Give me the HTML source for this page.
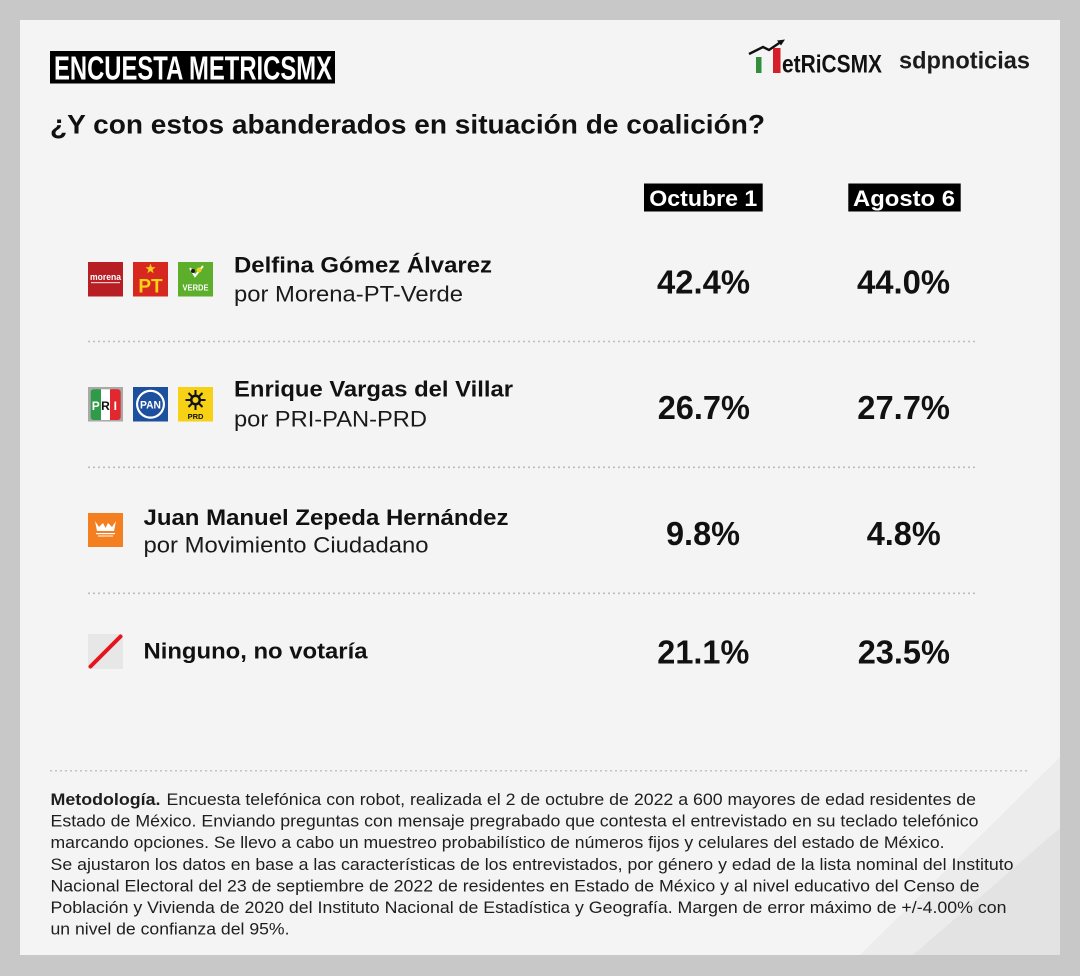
<!DOCTYPE html>
<html>
<head>
<meta charset="utf-8">
<style>
html,body{margin:0;padding:0;background:#c8c8c8;}
svg{display:block;}
text{font-family:"Liberation Sans",Arial,sans-serif;}
</style>
</head>
<body>
<svg width="1080" height="976" viewBox="0 0 1080 976" xmlns="http://www.w3.org/2000/svg">
  <rect x="0" y="0" width="1080" height="976" fill="#c8c8c8"/>
  <rect x="20" y="20" width="1040" height="935" fill="#f4f4f4"/>
  <!-- decorative corner -->
  <polygon points="1060,757 1060,955 860,955" fill="#ececec"/>
  <polygon points="1060,828 1060,955 913,955" fill="#e3e3e3"/>

  <!-- Title -->
  <rect x="50" y="51" width="285" height="32.5" fill="#000"/>
  <text x="54" y="79.3" font-size="33.5" font-weight="bold" fill="#fff" textLength="278" lengthAdjust="spacingAndGlyphs">ENCUESTA METRICSMX</text>

  <!-- metricsmx logo -->
  <polyline points="749,54 763,47 769,50 780,42.5" fill="none" stroke="#111" stroke-width="2.4"/>
  <polygon points="785,39.5 777,40.5 781,45.5" fill="#111"/>
  <rect x="756" y="57" width="5.5" height="16" fill="#2f8f3a"/>
  <rect x="773" y="48" width="7.5" height="25" fill="#d3202a"/>
  <text x="782" y="72.7" font-size="25" font-weight="bold" fill="#111" textLength="100" lengthAdjust="spacingAndGlyphs">etRiCSMX</text>
  <text x="899" y="68.3" font-size="24" font-weight="bold" fill="#1c1c1c" textLength="131" lengthAdjust="spacingAndGlyphs">sdpnoticias</text>

  <!-- Subtitle -->
  <text x="50" y="133.3" font-size="27" font-weight="bold" fill="#111" textLength="715" lengthAdjust="spacingAndGlyphs">¿Y con estos abanderados en situación de coalición?</text>

  <!-- Column headers -->
  <rect x="644" y="183.5" width="118.7" height="28" fill="#000"/>
  <text x="649.3" y="206" font-size="22" font-weight="bold" fill="#fff" textLength="108" lengthAdjust="spacingAndGlyphs">Octubre 1</text>
  <rect x="848.3" y="183.5" width="112.4" height="28" fill="#000"/>
  <text x="853" y="206" font-size="22" font-weight="bold" fill="#fff" textLength="102" lengthAdjust="spacingAndGlyphs">Agosto 6</text>

  <!-- Row 1 logos -->
  <rect x="88" y="262" width="35" height="34.5" fill="#b71f25"/>
  <text x="105.5" y="280" font-size="9.5" font-weight="bold" fill="#fff" text-anchor="middle" textLength="31" lengthAdjust="spacingAndGlyphs">morena</text>
  <rect x="91" y="282" width="29" height="1.2" fill="#f3c9c9"/>
  <rect x="133" y="262" width="35" height="34.5" fill="#d7281f"/>
  <polygon points="150.5,263.5 151.8,267.3 155.6,267.3 152.5,269.6 153.7,273.3 150.5,271 147.3,273.3 148.5,269.6 145.4,267.3 149.2,267.3" fill="#f7d11a"/>
  <text x="150.5" y="292.5" font-size="19" font-weight="bold" fill="#f7d11a" text-anchor="middle">PT</text>
  <rect x="178" y="262" width="35" height="34.5" fill="#5cae2b"/>
  <path d="M190,268 L195,276 L203,266" fill="none" stroke="#fff" stroke-width="2"/>
  <circle cx="199" cy="270" r="2.5" fill="#f2d31b"/>
  <circle cx="193" cy="271" r="2" fill="#1b1b1b"/>
  <text x="195.5" y="290.5" font-size="8" font-weight="bold" fill="#fff" text-anchor="middle" textLength="26" lengthAdjust="spacingAndGlyphs">VERDE</text>

  <!-- Row 1 text -->
  <text x="234" y="272.7" font-size="22" font-weight="bold" fill="#111" textLength="258" lengthAdjust="spacingAndGlyphs">Delfina Gómez Álvarez</text>
  <text x="234" y="301.7" font-size="22" fill="#1a1a1a" textLength="229" lengthAdjust="spacingAndGlyphs">por Morena-PT-Verde</text>
  <text x="657" y="293.3" font-size="33.5" font-weight="bold" fill="#111" textLength="93" lengthAdjust="spacingAndGlyphs">42.4%</text>
  <text x="857" y="293.3" font-size="33.5" font-weight="bold" fill="#111" textLength="93" lengthAdjust="spacingAndGlyphs">44.0%</text>

  <line x1="88" y1="341.5" x2="978" y2="341.5" stroke="#bdbdbd" stroke-width="1.6" stroke-dasharray="2 3"/>

  <!-- Row 2 logos -->
  <rect x="88" y="387" width="35" height="34.5" fill="#a9a9a9"/>
  <rect x="90.7" y="389.3" width="10" height="30.7" rx="3" fill="#2f9a47"/>
  <rect x="100.7" y="389.3" width="9.3" height="30.7" fill="#ffffff"/>
  <rect x="110" y="389.3" width="10.7" height="30.7" rx="3" fill="#e0282e"/>
  <rect x="96" y="389.3" width="5" height="30.7" fill="#2f9a47"/>
  <rect x="110" y="389.3" width="5" height="30.7" fill="#e0282e"/>
  <text x="95.7" y="410" font-size="12" font-weight="bold" fill="#fff" text-anchor="middle">P</text>
  <text x="105.4" y="410" font-size="12" font-weight="bold" fill="#111" text-anchor="middle">R</text>
  <text x="115.3" y="410" font-size="12" font-weight="bold" fill="#fff" text-anchor="middle">I</text>

  <rect x="133" y="387" width="35" height="34.5" fill="#1d4f9f"/>
  <circle cx="150.5" cy="404.2" r="14.5" fill="#fff"/>
  <circle cx="150.5" cy="404.2" r="12.3" fill="#1d4f9f"/>
  <text x="150.5" y="408.5" font-size="11" font-weight="bold" fill="#fff" text-anchor="middle" textLength="21" lengthAdjust="spacingAndGlyphs">PAN</text>

  <rect x="178" y="387" width="35" height="34.5" fill="#f6d116"/>
  <g stroke="#111" stroke-width="2">
    <line x1="195.5" y1="390" x2="195.5" y2="410"/>
    <line x1="185.5" y1="400" x2="205.5" y2="400"/>
    <line x1="188.5" y1="393" x2="202.5" y2="407"/>
    <line x1="202.5" y1="393" x2="188.5" y2="407"/>
  </g>
  <circle cx="195.5" cy="400" r="5.5" fill="#111"/>
  <circle cx="195.5" cy="400" r="3" fill="#f6d116"/>
  <text x="195.5" y="419" font-size="7.5" font-weight="bold" fill="#111" text-anchor="middle">PRD</text>

  <!-- Row 2 text -->
  <text x="234" y="396.7" font-size="22" font-weight="bold" fill="#111" textLength="279" lengthAdjust="spacingAndGlyphs">Enrique Vargas del Villar</text>
  <text x="234" y="426.7" font-size="22" fill="#1a1a1a" textLength="193" lengthAdjust="spacingAndGlyphs">por PRI-PAN-PRD</text>
  <text x="657.7" y="419" font-size="33.5" font-weight="bold" fill="#111" textLength="92.3" lengthAdjust="spacingAndGlyphs">26.7%</text>
  <text x="857.3" y="419" font-size="33.5" font-weight="bold" fill="#111" textLength="92.7" lengthAdjust="spacingAndGlyphs">27.7%</text>

  <line x1="88" y1="467.3" x2="978" y2="467.3" stroke="#bdbdbd" stroke-width="1.6" stroke-dasharray="2 3"/>

  <!-- Row 3 -->
  <rect x="88" y="513" width="35" height="34" fill="#f47f20"/>
  <path d="M95,521 L99,527 L103,523 L105.5,528 L108,523 L112,527 L116,521 L114,531 L97,531 Z" fill="#fff"/>
  <rect x="96" y="533" width="19" height="1.2" fill="#fff"/>
  <rect x="98" y="535.5" width="15" height="1" fill="#fff"/>
  <text x="143.5" y="525" font-size="22" font-weight="bold" fill="#111" textLength="365" lengthAdjust="spacingAndGlyphs">Juan Manuel Zepeda Hernández</text>
  <text x="143.5" y="552.7" font-size="22" fill="#1a1a1a" textLength="285" lengthAdjust="spacingAndGlyphs">por Movimiento Ciudadano</text>
  <text x="666" y="545" font-size="33.5" font-weight="bold" fill="#111" textLength="74" lengthAdjust="spacingAndGlyphs">9.8%</text>
  <text x="866.7" y="545" font-size="33.5" font-weight="bold" fill="#111" textLength="74" lengthAdjust="spacingAndGlyphs">4.8%</text>

  <line x1="88" y1="593.3" x2="978" y2="593.3" stroke="#bdbdbd" stroke-width="1.6" stroke-dasharray="2 3"/>

  <!-- Row 4 -->
  <rect x="88" y="634" width="35" height="35" fill="#e7e7e7"/>
  <line x1="90.5" y1="666.5" x2="120.5" y2="636.5" stroke="#e8141c" stroke-width="4" stroke-linecap="round"/>
  <text x="143.5" y="658.3" font-size="22" font-weight="bold" fill="#111" textLength="224" lengthAdjust="spacingAndGlyphs">Ninguno, no votaría</text>
  <text x="657.3" y="663.5" font-size="33.5" font-weight="bold" fill="#111" textLength="92" lengthAdjust="spacingAndGlyphs">21.1%</text>
  <text x="857.7" y="663.5" font-size="33.5" font-weight="bold" fill="#111" textLength="92.3" lengthAdjust="spacingAndGlyphs">23.5%</text>

  <!-- Methodology -->
  <line x1="50" y1="770.7" x2="1030" y2="770.7" stroke="#c2c2c2" stroke-width="1.5" stroke-dasharray="2 3"/>
  <g font-size="16.5" fill="#1e1e1e">
    <text x="50.5" y="805" font-weight="bold" textLength="110" lengthAdjust="spacingAndGlyphs">Metodología.</text>
    <text x="166.5" y="805" textLength="809.5" lengthAdjust="spacingAndGlyphs">Encuesta telefónica con robot, realizada el 2 de octubre de 2022 a 600 mayores de edad residentes de</text>
    <text x="50.5" y="826.6" textLength="928" lengthAdjust="spacingAndGlyphs">Estado de México. Enviando preguntas con mensaje pregrabado que contesta el entrevistado en su teclado telefónico</text>
    <text x="50.5" y="848.2" textLength="894" lengthAdjust="spacingAndGlyphs">marcando opciones. Se llevo a cabo un muestreo probabilístico de números fijos y celulares del estado de México.</text>
    <text x="50.5" y="869.8" textLength="963" lengthAdjust="spacingAndGlyphs">Se ajustaron los datos en base a las características de los entrevistados, por género y edad de la lista nominal del Instituto</text>
    <text x="50.5" y="891.4" textLength="929" lengthAdjust="spacingAndGlyphs">Nacional Electoral del 23 de septiembre de 2022 de residentes en Estado de México y al nivel educativo del Censo de</text>
    <text x="50.5" y="913" textLength="956" lengthAdjust="spacingAndGlyphs">Población y Vivienda de 2020 del Instituto Nacional de Estadística y Geografía. Margen de error máximo de +/-4.00% con</text>
    <text x="50.5" y="934.6" textLength="239" lengthAdjust="spacingAndGlyphs">un nivel de confianza del 95%.</text>
  </g>
</svg>
</body>
</html>
